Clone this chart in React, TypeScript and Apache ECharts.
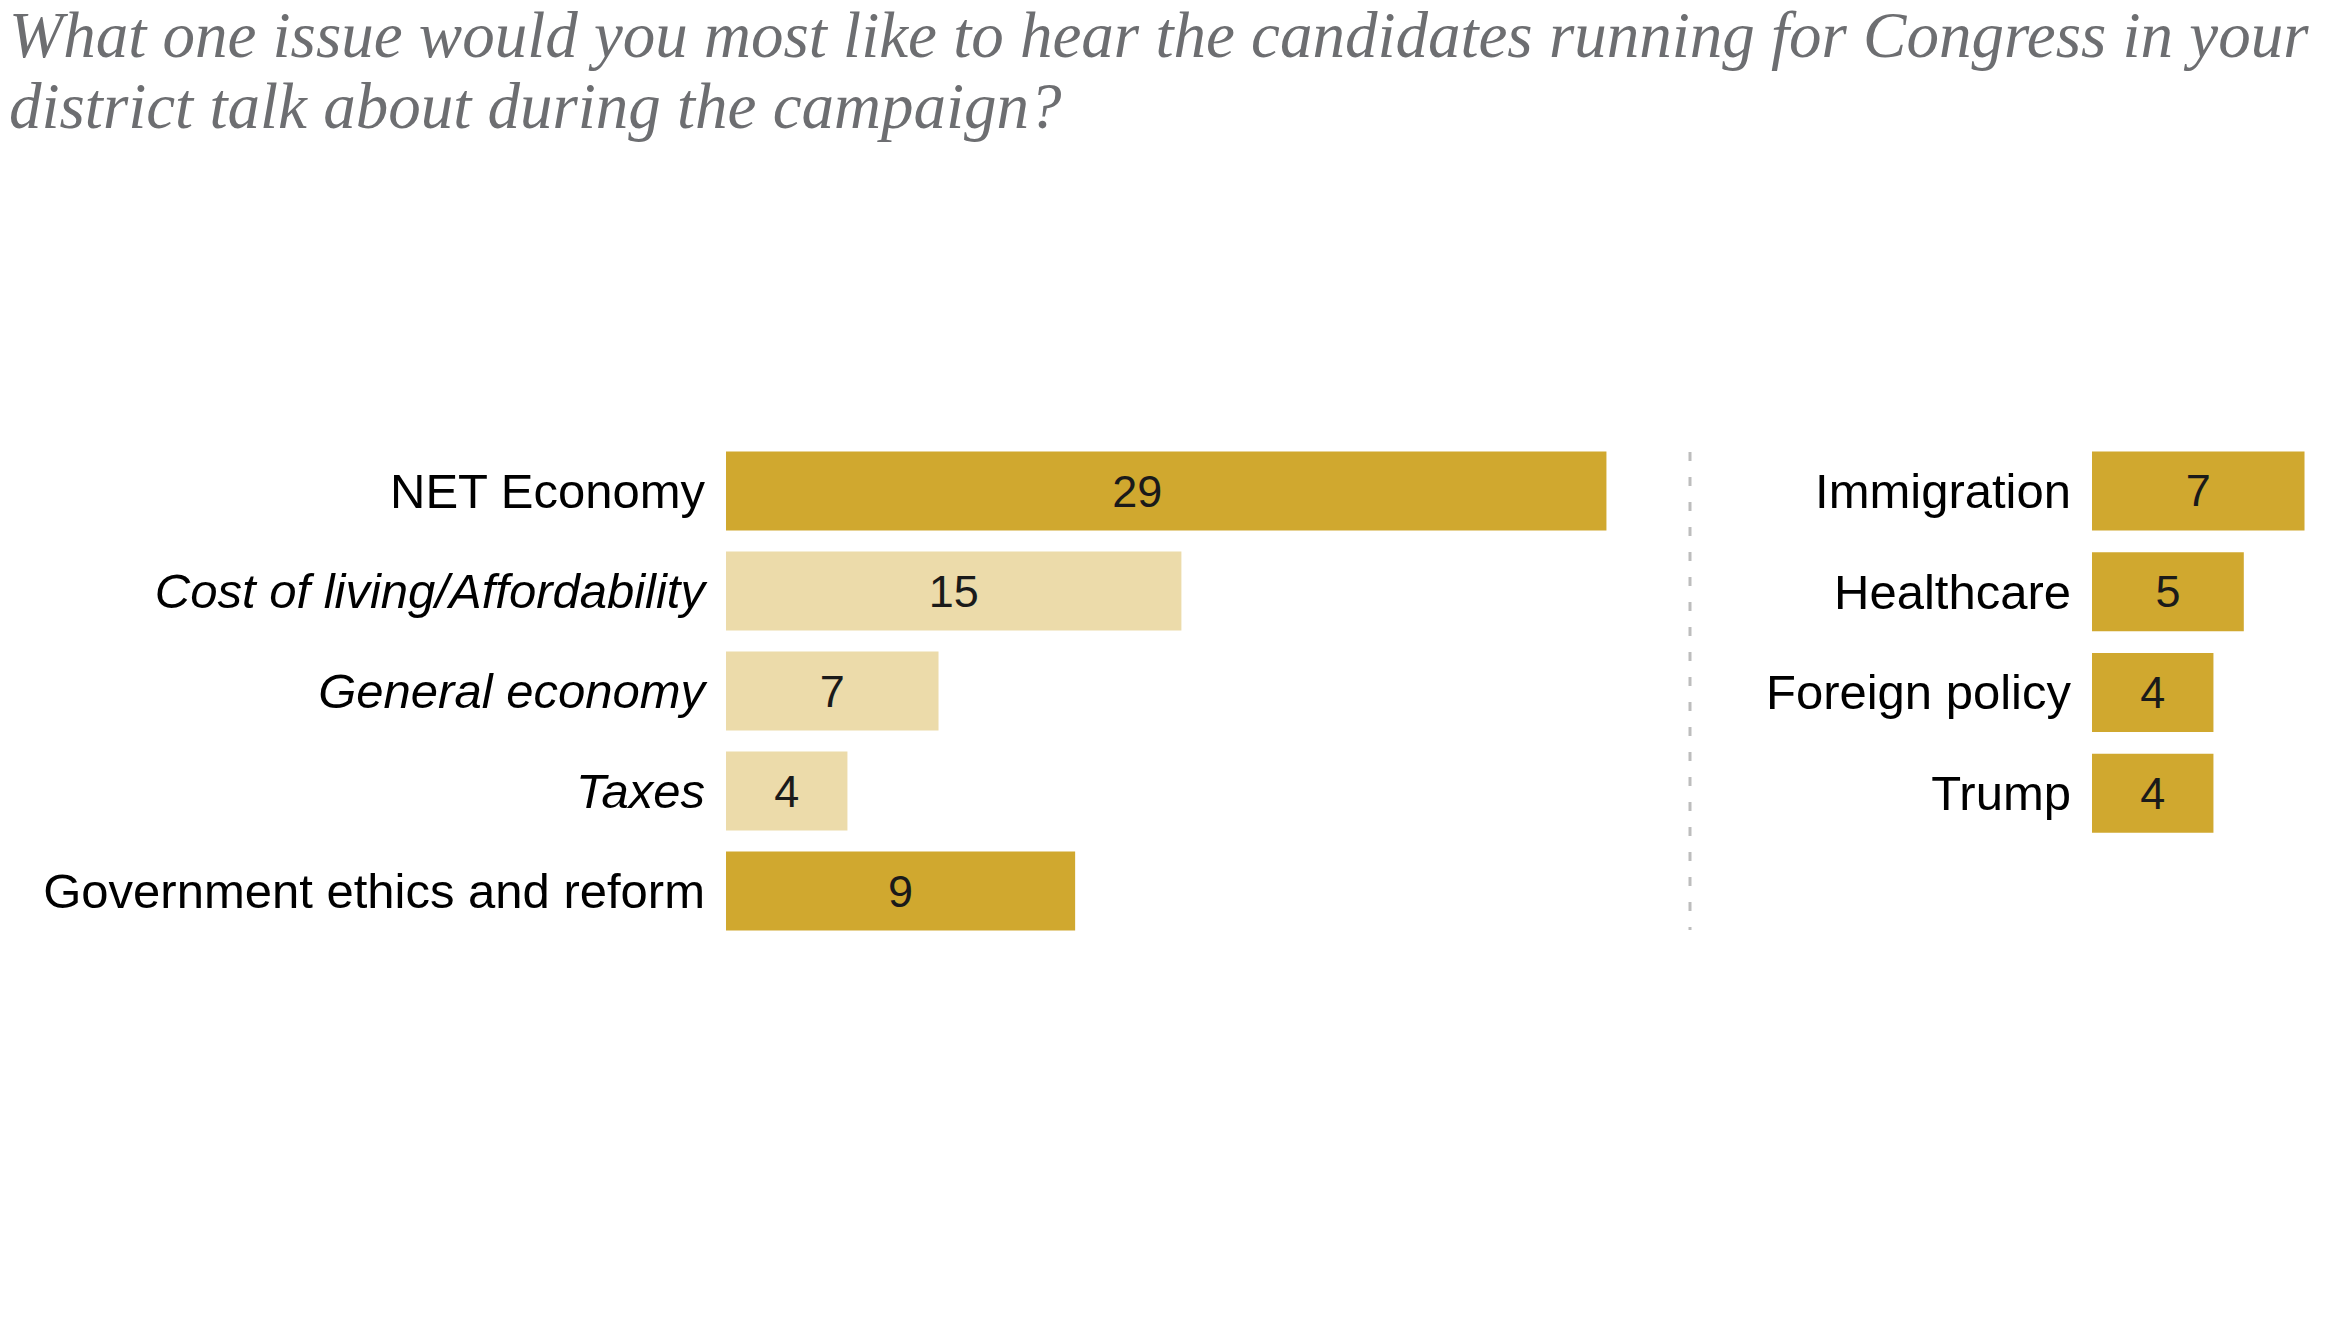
import React, { useEffect, useRef } from "react";
import * as echarts from "echarts";

const titleLines = [
  "What one issue would you most like to hear the candidates running for Congress in your",
  "district talk about during the campaign?",
];
const leftCategories = [
  "NET Economy",
  "Cost of living/Affordability",
  "General economy",
  "Taxes",
  "Government ethics and reform",
];
// bar lengths as drawn in the reference
const leftBarValues = [29, 15, 7, 4, 11.5];
// printed labels
const leftLabels = ["29", "15", "7", "4", "9"];
const leftSubItems = ["Cost of living/Affordability", "General economy", "Taxes"];
const rightCategories = ["Immigration", "Healthcare", "Foreign policy", "Trump"];
const rightValues = [7, 5, 4, 4];
const rightLabels = ["7", "5", "4", "4"];

const DARK = "#D0A82F";
const LIGHT = "#ECDBAA";
const SANS = "'Liberation Sans', Arial, sans-serif";
const SERIF = "'Liberation Serif', 'DejaVu Serif', serif";
const PX_PER_UNIT = 30.36;

export default function App() {
  const ref = useRef<HTMLDivElement>(null);
  useEffect(() => {
    if (!ref.current) return;
    const chart = echarts.init(ref.current, undefined, { renderer: "svg" });
    const axisLabel = {
      fontFamily: SANS,
      fontSize: 49,
      color: "#000",
      margin: 21,
    };
    const valueLabel = {
      show: true,
      position: "inside",
      fontFamily: SANS,
      fontSize: 45,
      color: "#1A1A1A",
    };
    const option = {
      animation: false,
      backgroundColor: "#fff",
      title: {
        text: titleLines.join("\n"),
        left: 4,
        top: -6,
        textStyle: {
          fontFamily: SERIF,
          fontStyle: "italic",
          fontWeight: "normal",
          fontSize: 65,
          lineHeight: 71,
          color: "#6D6E71",
        },
      },
      grid: [
        { left: 726, top: 441, width: 30 * PX_PER_UNIT, height: 500 },
        { left: 2092, top: 440.5, width: 8 * PX_PER_UNIT, height: 403 },
      ],
      xAxis: [
        { type: "value", gridIndex: 0, min: 0, max: 30, show: false },
        { type: "value", gridIndex: 1, min: 0, max: 8, show: false },
      ],
      yAxis: [
        {
          type: "category",
          gridIndex: 0,
          inverse: true,
          data: leftCategories.map((c) => ({
            value: c,
            textStyle: { fontStyle: leftSubItems.includes(c) ? "italic" : "normal" },
          })),
          axisLine: { show: false },
          axisTick: { show: false },
          splitLine: { show: false },
          axisLabel,
        },
        {
          type: "category",
          gridIndex: 1,
          inverse: true,
          data: rightCategories,
          axisLine: { show: false },
          axisTick: { show: false },
          splitLine: { show: false },
          axisLabel,
        },
      ],
      graphic: [
        {
          type: "line",
          shape: { x1: 1690, y1: 452, x2: 1690, y2: 930 },
          style: { stroke: "#BDBDBD", lineWidth: 3, lineDash: [9, 16] },
          silent: true,
        },
      ],
      series: [
        {
          type: "bar",
          xAxisIndex: 0,
          yAxisIndex: 0,
          barWidth: 79,
          data: leftBarValues.map((v, i) => ({
            value: v,
            itemStyle: { color: leftSubItems.includes(leftCategories[i]) ? LIGHT : DARK },
            label: i === 0 ? { offset: [-29, 0] } : undefined,
          })),
          label: {
            ...valueLabel,
            formatter: (p: any) => leftLabels[p.dataIndex],
          },
        },
        {
          type: "bar",
          xAxisIndex: 1,
          yAxisIndex: 1,
          barWidth: 79,
          data: rightValues,
          itemStyle: { color: DARK },
          label: {
            ...valueLabel,
            formatter: (p: any) => rightLabels[p.dataIndex],
          },
        },
      ],
    };
    chart.setOption(option as any);
    return () => chart.dispose();
  }, []);
  return (
    <div
      ref={ref}
      style={{ position: "fixed", left: 0, top: 0, width: 2350, height: 1325 }}
    />
  );
}
